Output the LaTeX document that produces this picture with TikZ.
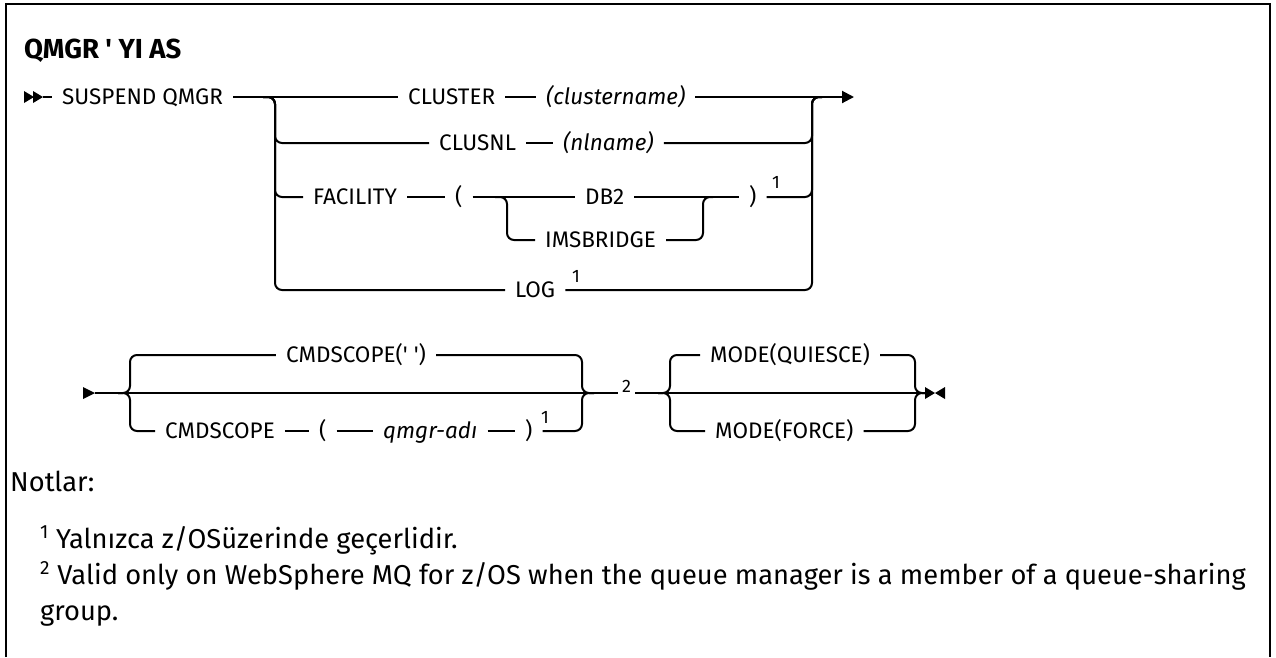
\documentclass[tikz,border=0pt]{standalone}
\usepackage{fontspec}
\setmainfont{Fira Sans}
\usetikzlibrary{arrows.meta, calc}

\begin{document}
\begin{tikzpicture}[
  x=1pt, y=-1pt,
  every node/.style={inner sep=0pt},
  kw/.style={font=\fontsize{22.5}{27}\selectfont, inner xsep=10pt, text height=15.5pt, text depth=0pt, anchor=west},
  var/.style={kw, font=\fontsize{22.5}{27}\selectfont\itshape},
  sup/.style={font=\fontsize{18}{20}\selectfont, anchor=base west},
  fnum/.style={kw, font=\fontsize{18}{20}\selectfont, inner xsep=4pt},
  note/.style={font=\fontsize{27.3}{32}\selectfont, anchor=base west},
  rail/.style={line width=2pt, rounded corners=7pt},
  tip/.style={-{Triangle[length=12pt, width=12pt]}}
]
  \useasboundingbox (0,0) rectangle (1276,657);
  \draw[line width=2.5pt] (6,657) -- (6,4) -- (1270,4) -- (1270,657);

  \node[anchor=base west, font=\fontsize{27.5}{32}\selectfont\bfseries] (title) at (24,58) {QMGR \textquotesingle{} YI AS};

  % first line
  \coordinate (s1) at (43,97);
  \coordinate (b1) at (275,97);
  \coordinate (b2) at (507,197);
  \coordinate (m2) at (703,197);
  \coordinate (m1) at (812,97);
  \coordinate (e1) at (854,97);
  \fill (24,91) -- (34,97) -- (24,103) -- cycle;
  \fill (33,91) -- (43,97) -- (33,103) -- cycle;

  \node[kw] (sus) at (52,97) {SUSPEND QMGR};
  \node[kw] (clu) at (398,97) {CLUSTER};
  \node[var] (cln) at (536,97) {(clustername)};
  \node[kw] (cnl) at (429,143) {CLUSNL};
  \node[var] (nln) at (553,143) {(nlname)};
  \node[kw] (fac) at (303,197) {FACILITY};
  \node[kw] (lp1) at (445,197) {(};
  \node[kw] (db2) at (575,197) {DB2};
  \node[kw] (rp1) at (739,197) {)};
  \node[sup] (f1a) at (772,188) {1};
  \node[kw] (ims) at (535,240) {IMSBRIDGE};
  \node[kw] (log) at (505,290) {LOG};
  \node[sup] (f1b) at (572,282) {1};

  \draw[rail] (s1) -- (sus);
  \draw[rail] (sus) -- (clu);
  \draw[rail] (clu) -- (cln);
  \draw[rail, tip] (cln) -- (e1);
  \draw[rail] ($(b1)+(-12,0)$) -- (b1) |- (cnl);
  \draw[rail] (cnl) -- (nln);
  \draw[rail] (nln) -| (m1) -- ++(10,0);
  \draw[rail] ($(b1)+(-12,0)$) -- (b1) |- (fac);
  \draw[rail] (fac) -- (lp1);
  \draw[rail] (lp1) -- (db2);
  \draw[rail] ($(b2)+(-12,0)$) -- (b2) |- (ims);
  \draw[rail] (db2) -- (rp1);
  \draw[rail] (ims) -| (m2) -- ++(10,0);
  \draw[rail] (rp1) -| (m1) -- ++(10,0);
  \draw[rail] ($(b1)+(-12,0)$) -- (b1) |- (log);
  \draw[rail] (log) -| (m1) -- ++(10,0);

  % second line
  \coordinate (s2) at (95,393);
  \coordinate (b3) at (130,393);
  \coordinate (m3) at (582,393);
  \coordinate (b4) at (670,393);
  \coordinate (m4) at (915,393);
  \coordinate (e2) at (925,393);
  \fill (83,387) -- (95,393) -- (83,399) -- cycle;

  \node[kw, anchor=center] (cs1) at (356,355) {CMDSCOPE(\textquotesingle{} \textquotesingle)};
  \node[kw] (cs2) at (155,431) {CMDSCOPE};
  \node[kw] (lp2) at (309,431) {(};
  \node[var] (qm) at (373,431) {qmgr-adı};
  \node[kw] (rp2) at (515,431) {)};
  \node[sup] (f1c) at (541,423) {1};
  \node[fnum] (ft2) at (618,393) {\raisebox{8pt}{2}};
  \node[kw] (mq) at (700,355) {MODE(QUIESCE)};
  \node[kw] (mf) at (705,431) {MODE(FORCE)};

  \draw[rail] (s2) -- (ft2);
  \draw[rail] ($(b3)+(-12,0)$) -- (b3) |- (cs1);
  \draw[rail] ($(b3)+(-12,0)$) -- (b3) |- (cs2);
  \draw[rail] (cs1) -| (m3) -- ++(12,0);
  \draw[rail] (cs2) -- (lp2);
  \draw[rail] (lp2) -- (qm);
  \draw[rail] (qm) -- (rp2);
  \draw[rail] (rp2) -| (m3) -- ++(12,0);
  \draw[rail] (ft2) -- (e2);
  \draw[rail] ($(b4)+(-12,0)$) -- (b4) |- (mq);
  \draw[rail] ($(b4)+(-12,0)$) -- (b4) |- (mf);
  \draw[rail] (mq) -| (m4) -- ++(10,0);
  \draw[rail] (mf) -| (m4) -- ++(10,0);
  \fill (925,387) -- (935,393) -- (925,399) -- cycle;
  \fill (945,387) -- (935,393) -- (945,399) -- cycle;

  % notes
  \node[note] (nt0) at (10,491) {Notlar:};
  \node[note] (nt1) at (40,548) {\textsuperscript{1} Yalnızca z/OSüzerinde geçerlidir.};
  \node[note] (nt2) at (40,584) {\textsuperscript{2} Valid only on WebSphere MQ for z/OS when the queue manager is a member of a queue-sharing};
  \node[note] (nt3) at (40,620) {group.};
\end{tikzpicture}
\end{document}
